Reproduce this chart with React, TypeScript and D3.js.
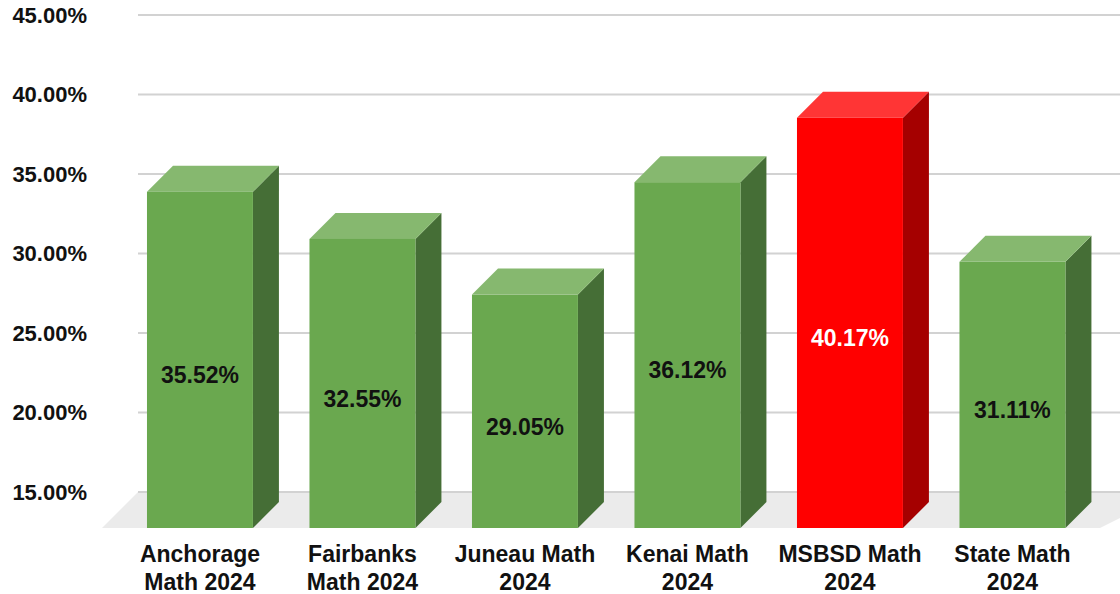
import React from "react";
import * as d3 from "d3";

const categories = ["Anchorage", "Fairbanks", "Juneau", "Kenai", "MSBSD", "State"];
const labelLines = [
  ["Anchorage", "Math 2024"],
  ["Fairbanks", "Math 2024"],
  ["Juneau Math", "2024"],
  ["Kenai Math", "2024"],
  ["MSBSD Math", "2024"],
  ["State Math", "2024"],
];
const values = [35.52, 32.55, 29.05, 36.12, 40.17, 31.11];
const highlight = ["MSBSD"];
const yTicks = [15, 20, 25, 30, 35, 40, 45];

const W = 1120;
const H = 594;
const DEPTH = 26;
const FLOOR_DEPTH = 36;
const FRONT_BOTTOM = 528;

const green = { front: "#6aa84f", top: "#86b86f", side: "#456e36" };
const red = { front: "#ff0000", top: "#ff3535", side: "#a50000" };

export default function App() {
  const y = d3.scaleLinear().domain([15, 45]).range([492, 15]);
  const x = d3
    .scaleBand<string>()
    .domain(categories)
    .range([118.7, 1093.7])
    .paddingInner(0.348)
    .paddingOuter(0.174);
  const bw = x.bandwidth();
  const floorBack = y(15);
  const fmt = (v: number) => v.toFixed(2) + "%";
  const font = "'Liberation Sans', Arial, sans-serif";

  return (
    <svg
      width={W}
      height={H}
      style={{ position: "absolute", left: 0, top: 0, display: "block", background: "#fff" }}
    >
      {/* floor */}
      <polygon
        points={`${102},${FRONT_BOTTOM} ${102 + FLOOR_DEPTH},${floorBack} ${1136 + FLOOR_DEPTH},${floorBack} ${1100},${FRONT_BOTTOM}`}
        fill="#ebebeb"
      />
      {/* gridlines */}
      {yTicks.map((t) => (
        <line key={t} x1={138} x2={1140} y1={y(t)} y2={y(t)} stroke="#d2d2d2" strokeWidth={2} />
      ))}
      {/* tick labels */}
      {yTicks.map((t) => (
        <text
          key={"l" + t}
          x={87}
          y={y(t)}
          dy="0.36em"
          textAnchor="end"
          fontFamily={font}
          fontWeight="bold"
          fontSize={22}
          fill="#111"
        >
          {fmt(t)}
        </text>
      ))}
      {/* bars */}
      {categories.map((c, i) => {
        const col = highlight.includes(c) ? red : green;
        const x0 = x(c)!;
        const backTop = y(values[i]);
        const frontTop = backTop + DEPTH;
        const x1 = x0 + bw;
        return (
          <g key={c}>
            <polygon
              points={`${x1},${frontTop} ${x1 + DEPTH},${backTop} ${x1 + DEPTH},${FRONT_BOTTOM - DEPTH} ${x1},${FRONT_BOTTOM}`}
              fill={col.side}
            />
            <polygon
              points={`${x0},${frontTop} ${x0 + DEPTH},${backTop} ${x1 + DEPTH},${backTop} ${x1},${frontTop}`}
              fill={col.top}
            />
            <rect x={x0} y={frontTop} width={bw} height={FRONT_BOTTOM - frontTop} fill={col.front} />
            <text
              x={x0 + bw / 2}
              y={(frontTop + FRONT_BOTTOM) / 2 + 15}
              dy="0.36em"
              textAnchor="middle"
              fontFamily={font}
              fontWeight="bold"
              fontSize={23}
              fill={highlight.includes(c) ? "#fff" : "#111"}
            >
              {fmt(values[i])}
            </text>
            {labelLines[i].map((ln, j) => (
              <text
                key={j}
                x={x0 + bw / 2}
                y={562 + j * 28}
                textAnchor="middle"
                fontFamily={font}
                fontWeight="bold"
                fontSize={23}
                fill="#111"
              >
                {ln}
              </text>
            ))}
          </g>
        );
      })}
    </svg>
  );
}
